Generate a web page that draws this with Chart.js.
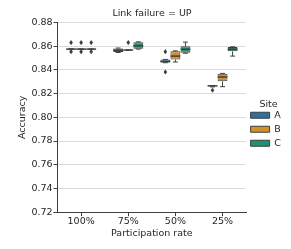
<!DOCTYPE html>
<html>
<head>
<meta charset="utf-8">
<script src="https://cdn.jsdelivr.net/npm/chart.js@4/dist/chart.umd.min.js"></script>
<style>
  html, body { margin: 0; padding: 0; background: #fff; }
</style>
</head>
<body>
<canvas id="chart" width="291" height="249"></canvas>
<script>
const rates = ['100%', '75%', '50%', '25%'];
const sites = ['A', 'B', 'C'];
const siteColors = ['#2b70a3', '#d3912a', '#1f9273'];

// per rate: [lower whisker, q1, median, q3, upper whisker]
const boxA = [
    [0.8575, 0.8575, 0.8575, 0.8575, 0.8575],
    [0.8546, 0.8550, 0.8565, 0.8581, 0.8584],
    [0.8460, 0.8461, 0.8470, 0.8487, 0.8488],
    [0.8256, 0.8262, 0.8265, 0.8268, 0.8268],
];
const boxB = [
    [0.8575, 0.8575, 0.8575, 0.8575, 0.8575],
    [0.8567, 0.8567, 0.8567, 0.8567, 0.8567],
    [0.8466, 0.8488, 0.8516, 0.8556, 0.8560],
    [0.8258, 0.8303, 0.8340, 0.8368, 0.8370],
];
const boxC = [
    [0.8575, 0.8575, 0.8575, 0.8575, 0.8575],
    [0.8575, 0.8578, 0.8603, 0.8632, 0.8636],
    [0.8540, 0.8545, 0.8573, 0.8598, 0.8634],
    [0.8516, 0.8556, 0.8574, 0.8592, 0.8594],
];
const outliersA = [[0.8630, 0.8553], [], [0.8553, 0.8382], [0.8228]];
const outliersB = [[0.8630, 0.8553], [0.8630], [], []];
const outliersC = [[0.8630, 0.8553], [], [], []];

const boxes = [boxA, boxB, boxC];
const outliers = [outliersA, outliersB, outliersC];
const lineColor = '#3f3f3f';
const textColor = '#262626';
const fontFamily = '"DejaVu Sans", sans-serif';

const boxPlotPlugin = {
    id: 'boxPlot',
    afterDatasetsDraw(chart) {
        const ctx = chart.ctx;
        const y = chart.scales.y;
        ctx.save();
        ctx.strokeStyle = lineColor;
        ctx.fillStyle = lineColor;
        ctx.lineWidth = 1;
        chart.data.datasets.forEach((ds, di) => {
            const meta = chart.getDatasetMeta(di);
            meta.data.forEach((bar, i) => {
                const [lo, q1, med, q3, hi] = boxes[di][i];
                const x = bar.x;
                const half = bar.width / 2;
                const cap = bar.width / 4;
                ctx.beginPath();
                ctx.moveTo(x, y.getPixelForValue(q1));
                ctx.lineTo(x, y.getPixelForValue(lo));
                ctx.moveTo(x, y.getPixelForValue(q3));
                ctx.lineTo(x, y.getPixelForValue(hi));
                ctx.moveTo(x - cap, y.getPixelForValue(lo));
                ctx.lineTo(x + cap, y.getPixelForValue(lo));
                ctx.moveTo(x - cap, y.getPixelForValue(hi));
                ctx.lineTo(x + cap, y.getPixelForValue(hi));
                ctx.stroke();

                ctx.beginPath();
                ctx.lineWidth = 1.5;
                ctx.moveTo(x - half, y.getPixelForValue(med));
                ctx.lineTo(x + half, y.getPixelForValue(med));
                ctx.stroke();
                ctx.lineWidth = 1;

                outliers[di][i].forEach(v => {
                    const py = y.getPixelForValue(v);
                    ctx.beginPath();
                    ctx.moveTo(x, py - 2.6);
                    ctx.lineTo(x + 1.8, py);
                    ctx.lineTo(x, py + 2.6);
                    ctx.lineTo(x - 1.8, py);
                    ctx.closePath();
                    ctx.fill();
                });
            });
        });
        ctx.restore();
    }
};

new Chart(document.getElementById('chart'), {
    type: 'bar',
    data: {
        labels: rates,
        datasets: sites.map((s, di) => ({
            label: s,
            data: boxes[di].map(b => [b[1], b[3]]),
            backgroundColor: siteColors[di],
            borderColor: lineColor,
            borderWidth: 1,
            borderSkipped: false,
            categoryPercentage: 0.64,
            barPercentage: 0.98,
        })),
    },
    options: {
        responsive: false,
        animation: false,
        layout: { padding: { left: 13, right: 0, top: 0, bottom: 10 } },
        plugins: {
            title: {
                display: true,
                text: 'Link failure = UP',
                color: textColor,
                font: { family: fontFamily, size: 9.5, weight: 'normal' },
                padding: { top: 8, bottom: 3 },
            },
            legend: {
                position: 'right',
                align: 'center',
                title: {
                    display: true,
                    text: 'Site',
                    color: textColor,
                    font: { family: fontFamily, size: 9.5, lineHeight: 1 },
                    padding: { top: 13, bottom: -3 },
                },
                labels: {
                    boxWidth: 19,
                    boxHeight: 6,
                    padding: 4.5,
                    color: textColor,
                    font: { family: fontFamily, size: 9.5 },
                },
            },
            tooltip: { enabled: false },
        },
        scales: {
            x: {
                grid: {
                    display: true,
                    drawOnChartArea: false,
                    offset: false,
                    tickLength: 4,
                    tickColor: lineColor,
                },
                border: { color: lineColor, width: 1 },
                ticks: {
                    color: textColor,
                    padding: 0,
                    font: { family: fontFamily, size: 9.5 },
                },
                title: {
                    display: true,
                    text: 'Participation rate',
                    color: textColor,
                    font: { family: fontFamily, size: 9.5 },
                    padding: { top: 0, bottom: 0 },
                },
            },
            y: {
                min: 0.72,
                max: 0.88,
                grid: {
                    color: '#dcdcdc',
                    tickLength: 4,
                    tickColor: lineColor,
                },
                border: { color: lineColor, width: 1 },
                ticks: {
                    stepSize: 0.02,
                    color: textColor,
                    padding: 1,
                    font: { family: fontFamily, size: 9.5 },
                    callback: v => v.toFixed(2),
                },
                title: {
                    display: true,
                    text: 'Accuracy',
                    color: textColor,
                    font: { family: fontFamily, size: 9.5 },
                    padding: { top: 4, bottom: 2 },
                },
            },
        },
    },
    plugins: [boxPlotPlugin],
});
</script>
</body>
</html>
